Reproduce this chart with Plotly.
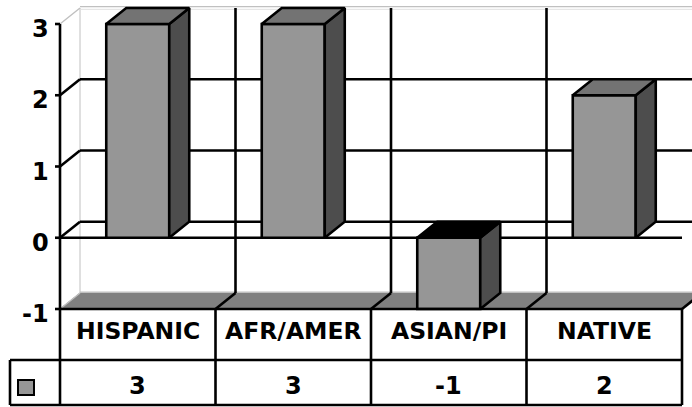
import plotly.graph_objects as go

# ---------------- data ----------------
categories = ["HISPANIC", "AFR/AMER", "ASIAN/PI", "NATIVE"]
values = [3, 3, -1, 2]
y_ticks = [-1, 0, 1, 2, 3]

# ---------------- geometry (pixel layout -> axis units) ----------------
W, H = 692, 407
X0, CW = 60.0, 155.5      # px of category edge 0, px per category
Y0, VU = 237.75, 71.25    # px of value 0, px per value unit


def ax(px):
    return (px - X0) / CW


def ay(py):
    return (Y0 - py) / VU


XMIN, XMAX = ax(0), ax(W)
YMIN, YMAX = ay(H), ay(0)
DX = 20 / CW              # depth offset in x units
DY = 16 / VU              # depth offset in y units
BW = 63 / CW              # bar width
NC = len(categories)
VLO, VHI = min(y_ticks), max(y_ticks)

BLACK = "#000000"
LGRAY = "#c0c0c0"
FRONT = "#969696"
SIDE = "#4d4d4d"
TOP = "#737373"
FLOOR = "#808080"
LW = 2.6
FONT = "DejaVu Sans, Verdana, sans-serif"

fig = go.Figure()
shapes = []


def line(x0, y0, x1, y1, color=BLACK, width=LW, layer="below"):
    shapes.append(dict(type="line", xref="x", yref="y", x0=x0, y0=y0, x1=x1, y1=y1,
                       line=dict(color=color, width=width), layer=layer))


def poly(xs, ys, fill, color=BLACK, width=LW, layer="below"):
    path = "M " + " L ".join(f"{x},{y}" for x, y in zip(xs, ys)) + " Z"
    shapes.append(dict(type="path", xref="x", yref="y", path=path, fillcolor=fill,
                       line=dict(color=color, width=width), layer=layer))


# floor
poly([0, NC, NC + DX, DX], [VLO, VLO, VLO + DY, VLO + DY], FLOOR, color=FLOOR, width=1)
# back wall edges (light gray)
line(DX, VLO + DY, DX, VHI + DY, LGRAY, 1)
line(DX, VHI + DY + 1.3 / VU, XMAX, VHI + DY + 1.3 / VU, LGRAY, 1.2)
line(DX, VHI + DY - 1.3 / VU, XMAX, VHI + DY - 1.3 / VU, "#e0e0e0", 1)
line(DX, VLO + DY + 1 / VU, XMAX, VLO + DY + 1 / VU, LGRAY, 1.2)
# left wall diagonals
for v in y_ticks:
    edge = v in (VLO, VHI)
    line(0, v, DX, v + DY, LGRAY if edge else BLACK, 1.5 if edge else LW)
# back wall horizontal gridlines
for v in y_ticks:
    if v not in (VLO, VHI):
        line(DX, v + DY, XMAX, v + DY)
# back wall vertical gridlines
for k in range(1, NC):
    line(k + DX, VLO + DY, k + DX, VHI + DY)
# floor column diagonals
for k in range(1, NC + 1):
    line(k, VLO, k + DX, VLO + DY)
# front zero line
line(0, 0, NC, 0)
# y axis + ticks
line(0, VLO, 0, VHI)
for v in y_ticks:
    line(ax(X0 - 5), v, 0, v)

# ---------------- table ----------------
row_mid = ay(360)
row_bot = ay(405)
key_left = ax(10)
line(0, VLO, NC, VLO, layer="above")
line(key_left, row_mid, NC, row_mid, layer="above")
line(key_left, row_bot, NC, row_bot, layer="above")
line(key_left, row_mid, key_left, row_bot, layer="above")
for k in range(NC + 1):
    line(k, VLO, k, row_bot, layer="above")
poly([ax(18), ax(34), ax(34), ax(18)], [ay(380), ay(380), ay(395), ay(395)], FRONT,
     width=2, layer="above")

# ---------------- bars ----------------
xc = [i + 0.5 for i in range(NC)]
fig.add_trace(go.Bar(x=xc, y=values, width=BW,
                     marker=dict(color=FRONT, line=dict(color=BLACK, width=LW)),
                     hoverinfo="skip", showlegend=False))

for x, v in zip(xc, values):
    x0, x1 = x - BW / 2, x + BW / 2
    lo, hi = min(0, v), max(0, v)
    # side face
    fig.add_trace(go.Scatter(x=[x1, x1, x1 + DX, x1 + DX, x1], y=[lo, hi, hi + DY, lo + DY, lo],
                             mode="lines", fill="toself", fillcolor=SIDE,
                             line=dict(color=BLACK, width=LW), hoverinfo="skip", showlegend=False))
    # top face
    fig.add_trace(go.Scatter(x=[x0, x1, x1 + DX, x0 + DX, x0], y=[hi, hi, hi + DY, hi + DY, hi],
                             mode="lines", fill="toself",
                             fillcolor=TOP if v > 0 else BLACK,
                             line=dict(color=BLACK, width=LW), hoverinfo="skip", showlegend=False))

# ---------------- text ----------------
annotations = []
for v in y_ticks:
    annotations.append(dict(x=ax(50.5), y=v - 5 / VU, xref="x", yref="y", text=f"<b>{v}</b>",
                            showarrow=False, xanchor="right", yanchor="middle",
                            font=dict(family=FONT, size=24, color=BLACK)))
for x, c, v in zip(xc, categories, values):
    annotations.append(dict(x=x, y=ay(331), xref="x", yref="y", text=f"<b>{c}</b>",
                            showarrow=False, xanchor="center", yanchor="middle",
                            font=dict(family=FONT, size=23.5, color=BLACK)))
    annotations.append(dict(x=x, y=ay(386), xref="x", yref="y", text=f"<b>{v}</b>",
                            showarrow=False, xanchor="center", yanchor="middle",
                            font=dict(family=FONT, size=24, color=BLACK)))

fig.update_layout(
    width=W, height=H, autosize=False,
    margin=dict(l=0, r=0, t=0, b=0, pad=0),
    paper_bgcolor="white", plot_bgcolor="white",
    xaxis=dict(range=[XMIN, XMAX], visible=False, fixedrange=True),
    yaxis=dict(range=[YMIN, YMAX], visible=False, fixedrange=True),
    shapes=shapes, annotations=annotations, showlegend=False,
)

fig.write_html("out.html")
